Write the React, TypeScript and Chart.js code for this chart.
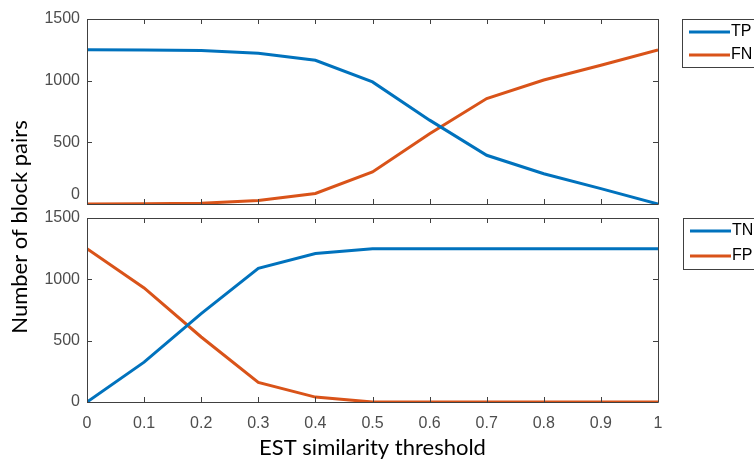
import React, { useEffect, useRef } from "react";
import { Chart, registerables } from "chart.js";

Chart.register(...registerables);

const thresholds = [0, 0.1, 0.2, 0.3, 0.4, 0.5, 0.6, 0.7, 0.8, 0.9, 1];
const tpValues = [1250, 1248, 1244, 1222, 1165, 990, 680, 395, 245, 125, 0];
const fnValues = [0, 2, 6, 28, 85, 260, 570, 855, 1005, 1125, 1250];
const tnValues = [0, 325, 720, 1090, 1210, 1250, 1250, 1250, 1250, 1250, 1250];
const fpValues = [1250, 930, 530, 160, 40, 0, 0, 0, 0, 0, 0];
const yTicks = [0, 500, 1000, 1500];
const xTicks = [0, 0.1, 0.2, 0.3, 0.4, 0.5, 0.6, 0.7, 0.8, 0.9, 1];
const topLabels = ["TP", "FN"];
const bottomLabels = ["TN", "FP"];
const yTitle = "Number of block pairs";
const xTitle = "EST similarity threshold";

const BLUE = "#0072BD";
const ORANGE = "#D95319";
const AXIS = "#404040";
const TICK_FONT = { family: "'Liberation Sans', Arial, sans-serif", size: 16 };
const TITLE_FAMILY = "Lato, 'Open Sans', sans-serif";

const W = 754;
const H = 459;

const toPoints = (ys: number[]) => thresholds.map((x, i) => ({ x, y: ys[i] }));

const boxPlugin = {
  id: "matlabBox",
  afterDatasetsDraw(chart: any) {
    const { ctx, chartArea } = chart;
    const { left, right, top, bottom } = chartArea;
    const xs = chart.scales.x;
    const ys = chart.scales.y;
    const tl = 5;
    ctx.save();
    ctx.strokeStyle = AXIS;
    ctx.lineWidth = 1;
    ctx.beginPath();
    ctx.rect(Math.round(left) + 0.5, Math.round(top) + 0.5, Math.round(right - left), Math.round(bottom - top));
    xTicks.forEach((v) => {
      const px = Math.round(xs.getPixelForValue(v)) + 0.5;
      ctx.moveTo(px, bottom);
      ctx.lineTo(px, bottom - tl);
      ctx.moveTo(px, top);
      ctx.lineTo(px, top + tl);
    });
    yTicks.forEach((v) => {
      const py = Math.round(ys.getPixelForValue(v)) + 0.5;
      ctx.moveTo(left, py);
      ctx.lineTo(left + tl, py);
      ctx.moveTo(right, py);
      ctx.lineTo(right - tl, py);
    });
    ctx.stroke();
    ctx.restore();
  },
};

const legendPlugin = {
  id: "matlabLegend",
  afterDraw(chart: any, _args: any, opts: any) {
    if (!opts || !opts.labels) return;
    const { ctx } = chart;
    const { x, y, w, h, rowGap } = opts;
    ctx.save();
    ctx.fillStyle = "#ffffff";
    ctx.fillRect(x, y, w, h);
    ctx.strokeStyle = AXIS;
    ctx.lineWidth = 1;
    ctx.strokeRect(x + 0.5, y + 0.5, w, h);
    opts.labels.forEach((lab: string, i: number) => {
      const ry = y + 13 + i * rowGap;
      ctx.strokeStyle = opts.colors[i];
      ctx.lineWidth = 3;
      ctx.beginPath();
      ctx.moveTo(x + 7, ry);
      ctx.lineTo(x + 48, ry);
      ctx.stroke();
      ctx.fillStyle = "#000000";
      ctx.font = "16px 'Liberation Sans', Arial, sans-serif";
      ctx.textBaseline = "middle";
      ctx.textAlign = "left";
      ctx.fillText(lab, x + 49, ry);
    });
    ctx.restore();
  },
};

const yTitlePlugin = {
  id: "yTitle",
  afterDraw(chart: any, _args: any, opts: any) {
    if (!opts || !opts.text) return;
    const { ctx } = chart;
    ctx.save();
    ctx.translate(opts.x, opts.y);
    ctx.rotate(-Math.PI / 2);
    ctx.fillStyle = "#000000";
    ctx.font = `22px ${TITLE_FAMILY}`;
    ctx.textAlign = "center";
    ctx.textBaseline = "middle";
    ctx.fillText(opts.text, 0, 0);
    ctx.restore();
  },
};

function makeConfig(which: "top" | "bottom"): any {
  const isTop = which === "top";
  const d1 = isTop ? tpValues : tnValues;
  const d2 = isTop ? fnValues : fpValues;
  const labels = isTop ? topLabels : bottomLabels;
  return {
    type: "line",
    data: {
      datasets: [
        { label: labels[0], data: toPoints(d1), borderColor: BLUE, backgroundColor: BLUE, borderWidth: 3, pointRadius: 0, tension: 0 },
        { label: labels[1], data: toPoints(d2), borderColor: ORANGE, backgroundColor: ORANGE, borderWidth: 3, pointRadius: 0, tension: 0 },
      ],
    },
    plugins: [boxPlugin, legendPlugin, yTitlePlugin],
    options: {
      responsive: false,
      animation: false,
      devicePixelRatio: 1,
      layout: {
        padding: isTop
          ? { left: 0, right: W - 658, top: 19, bottom: H - 204 }
          : { left: 0, right: W - 658, top: 218, bottom: 0 },
      },
      plugins: {
        legend: { display: false },
        tooltip: { enabled: false },
        matlabLegend: isTop
          ? { labels: topLabels, colors: [BLUE, ORANGE], x: 682, y: 19, w: 90, h: 48, rowGap: 23 }
          : { labels: bottomLabels, colors: [BLUE, ORANGE], x: 683, y: 218, w: 90, h: 51, rowGap: 25 },
        yTitle: isTop ? {} : { text: yTitle, x: 20, y: 227 },
      },
      scales: {
        x: {
          type: "linear",
          min: 0,
          max: 1,
          afterBuildTicks: (s: any) => {
            s.ticks = xTicks.map((v) => ({ value: v }));
          },
          afterFit: (s: any) => {
            s.height = isTop ? 0 : H - 402;
          },
          grid: { display: false, drawTicks: false },
          border: { display: false },
          ticks: {
            display: !isTop,
            font: TICK_FONT,
            color: "#4d4d4d",
            padding: 12,
            maxRotation: 0,
            autoSkip: false,
            callback: (v: any) => String(v),
          },
          title: {
            display: !isTop,
            text: xTitle,
            color: "#000000",
            font: { family: TITLE_FAMILY, size: 22 },
            padding: { top: 0, bottom: -2 },
          },
        },
        y: {
          min: 0,
          max: 1500,
          afterBuildTicks: (s: any) => {
            s.ticks = yTicks.map((v) => ({ value: v }));
          },
          afterFit: (s: any) => {
            s.width = 87;
          },
          grid: { display: false, drawTicks: false },
          border: { display: false },
          ticks: {
            font: TICK_FONT,
            color: "#4d4d4d",
            padding: 7,
            autoSkip: false,
            callback: (v: any) => (isTop && v === 0 ? ["0", ""] : String(v)),
          },
        },
      },
    },
  };
}

function ChartCanvas({ which }: { which: "top" | "bottom" }) {
  const ref = useRef<HTMLCanvasElement | null>(null);
  useEffect(() => {
    if (!ref.current) return;
    const chart = new Chart(ref.current, makeConfig(which));
    return () => chart.destroy();
  }, [which]);
  return (
    <canvas
      ref={ref}
      width={W}
      height={H}
      style={{ position: "absolute", left: 0, top: 0, width: W, height: H }}
    />
  );
}

export default function App() {
  return (
    <div style={{ position: "fixed", left: 0, top: 0, width: W, height: H, background: "#ffffff", overflow: "hidden" }}>
      <ChartCanvas which="top" />
      <ChartCanvas which="bottom" />
    </div>
  );
}
